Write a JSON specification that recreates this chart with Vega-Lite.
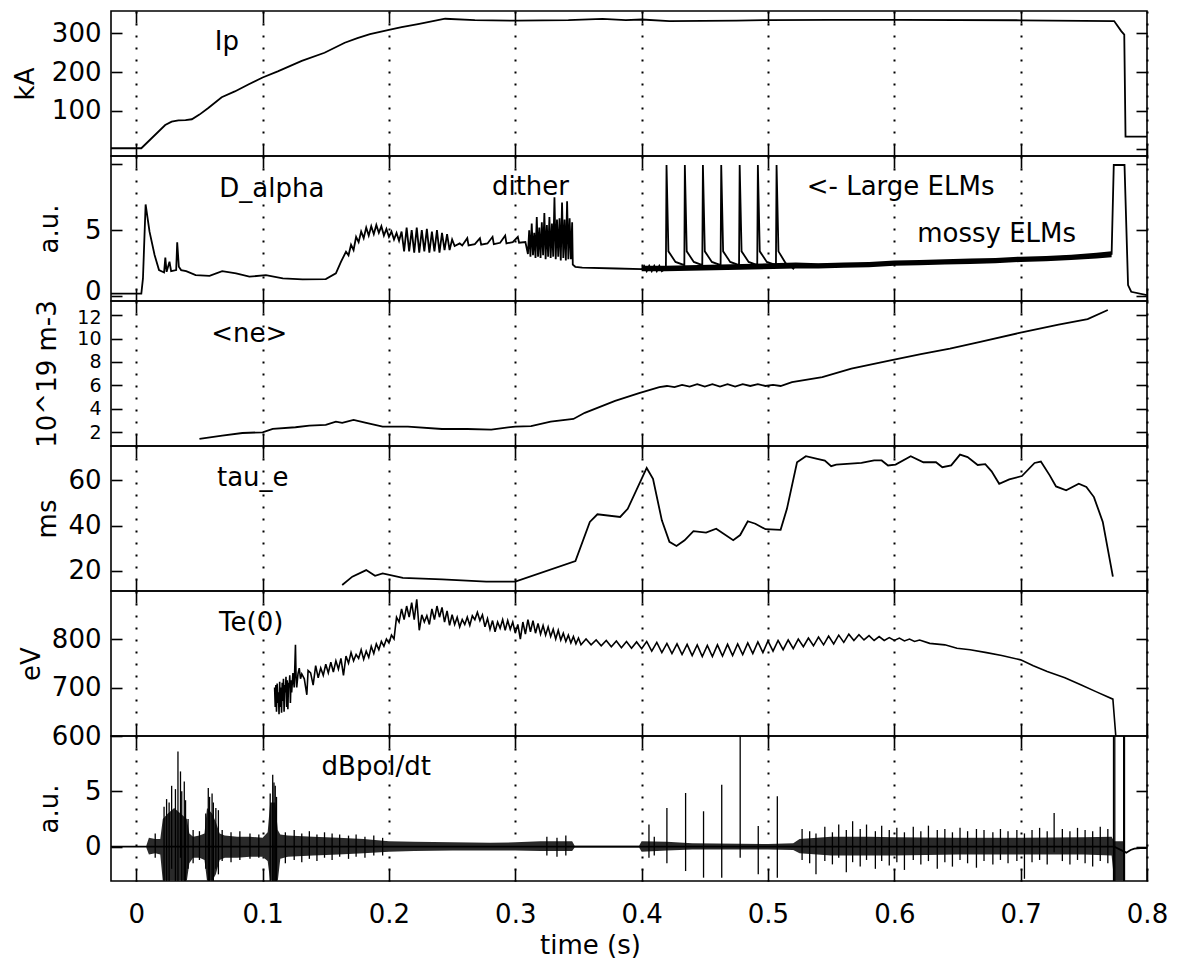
{
  "$schema": "https://vega.github.io/schema/vega-lite/v6.json",
  "padding": {"left": 11, "top": 9, "right": 25, "bottom": 5},
  "spacing": 0,
  "bounds": "flush",
  "config": {
    "font": "DejaVu Sans",
    "view": {"stroke": "black", "strokeWidth": 1.6},
    "axis": {"tickColor": "black", "tickWidth": 1.6, "labelColor": "black", "titleColor": "black", "labelFontSize": 26, "titleFontSize": 26, "titleFontWeight": "normal", "labelOverlap": false, "domain": false, "grid": false, "gridColor": "black", "gridDash": [2, 10], "gridWidth": 2, "gridOpacity": 1},
    "line": {"color": "black", "strokeWidth": 1.8},
    "text": {"color": "black"}
  },
  "datasets": {
    "ip": [{"t":-0.02,"v":3},{"t":0.004,"v":3},{"t":0.0229,"v":63},{"t":0.028,"v":72},{"t":0.0334,"v":75},{"t":0.039,"v":76},{"t":0.044,"v":78},{"t":0.05,"v":90},{"t":0.057,"v":107},{"t":0.0676,"v":135},{"t":0.078,"v":150},{"t":0.0887,"v":168},{"t":0.1,"v":186},{"t":0.112,"v":202},{"t":0.131,"v":229},{"t":0.149,"v":250},{"t":0.165,"v":276},{"t":0.175,"v":288},{"t":0.185,"v":298},{"t":0.2,"v":309},{"t":0.21,"v":316},{"t":0.223,"v":324},{"t":0.2445,"v":338},{"t":0.268,"v":334.5},{"t":0.301,"v":333},{"t":0.342,"v":334.5},{"t":0.369,"v":337.5},{"t":0.3875,"v":334.5},{"t":0.4,"v":336},{"t":0.422,"v":332},{"t":0.475,"v":333},{"t":0.5,"v":334.5},{"t":0.55,"v":335},{"t":0.6,"v":335},{"t":0.7,"v":334},{"t":0.774,"v":332},{"t":0.7796,"v":306},{"t":0.782,"v":297},{"t":0.783,"v":33},{"t":0.8,"v":33}],
    "da": [{"t":-0.02,"v":0.2},{"t":0.004,"v":0.2},{"t":0.0053,"v":1.35},{"t":0.0074,"v":6.95},{"t":0.0105,"v":4.89},{"t":0.0145,"v":3.12},{"t":0.018,"v":1.98},{"t":0.022,"v":1.8},{"t":0.023,"v":2.92},{"t":0.024,"v":1.85},{"t":0.0263,"v":2.61},{"t":0.0276,"v":1.9},{"t":0.0316,"v":1.98},{"t":0.0324,"v":4.08},{"t":0.0337,"v":2.23},{"t":0.0355,"v":1.98},{"t":0.0395,"v":1.9},{"t":0.047,"v":1.6},{"t":0.058,"v":1.55},{"t":0.068,"v":1.9},{"t":0.079,"v":1.73},{"t":0.0895,"v":1.48},{"t":0.1026,"v":1.6},{"t":0.116,"v":1.35},{"t":0.1316,"v":1.27},{"t":0.15,"v":1.3},{"t":0.158,"v":1.73},{"t":0.162,"v":2.61},{"t":0.166,"v":3.37},{"t":0.168,"v":3.1},{"t":0.17,"v":3.9},{"t":0.172,"v":3.5},{"t":0.174,"v":4.5},{"t":0.176,"v":4.1},{"t":0.178,"v":4.9},{"t":0.18,"v":4.4},{"t":0.182,"v":5.2},{"t":0.184,"v":4.6},{"t":0.186,"v":5.3},{"t":0.188,"v":4.7},{"t":0.19,"v":5.4},{"t":0.192,"v":4.8},{"t":0.194,"v":5.3},{"t":0.196,"v":4.6},{"t":0.198,"v":5.1},{"t":0.2,"v":4.5},{"t":0.202,"v":4.9},{"t":0.204,"v":4.3},{"t":0.206,"v":4.8},{"t":0.208,"v":4.2},{"t":0.21,"v":4.9},{"t":0.212,"v":3.4},{"t":0.214,"v":5.2},{"t":0.216,"v":3.4},{"t":0.218,"v":5.0},{"t":0.22,"v":3.3},{"t":0.222,"v":5.2},{"t":0.224,"v":3.3},{"t":0.226,"v":5.0},{"t":0.228,"v":3.4},{"t":0.23,"v":5.1},{"t":0.232,"v":3.3},{"t":0.234,"v":4.9},{"t":0.236,"v":3.4},{"t":0.238,"v":5.0},{"t":0.24,"v":3.3},{"t":0.242,"v":4.8},{"t":0.244,"v":3.5},{"t":0.246,"v":4.7},{"t":0.248,"v":3.5},{"t":0.25,"v":4.3},{"t":0.252,"v":3.8},{"t":0.256,"v":4.0},{"t":0.258,"v":3.85},{"t":0.262,"v":4.4},{"t":0.263,"v":3.85},{"t":0.268,"v":3.95},{"t":0.272,"v":4.4},{"t":0.273,"v":3.9},{"t":0.278,"v":4.0},{"t":0.282,"v":4.5},{"t":0.283,"v":3.95},{"t":0.288,"v":4.05},{"t":0.292,"v":4.6},{"t":0.293,"v":4.0},{"t":0.298,"v":4.1},{"t":0.302,"v":4.5},{"t":0.303,"v":4.05},{"t":0.308,"v":4.1},{"t":0.31,"v":3.2},{"t":0.311,"v":5.0},{"t":0.312,"v":3.0},{"t":0.313,"v":5.5},{"t":0.314,"v":3.1},{"t":0.315,"v":4.8},{"t":0.316,"v":2.9},{"t":0.317,"v":6.0},{"t":0.318,"v":3.0},{"t":0.319,"v":5.2},{"t":0.32,"v":2.9},{"t":0.321,"v":5.6},{"t":0.322,"v":3.1},{"t":0.323,"v":6.3},{"t":0.324,"v":2.8},{"t":0.325,"v":5.4},{"t":0.326,"v":3.0},{"t":0.327,"v":6.0},{"t":0.328,"v":2.9},{"t":0.329,"v":5.5},{"t":0.33,"v":3.0},{"t":0.331,"v":7.5},{"t":0.332,"v":2.8},{"t":0.333,"v":5.8},{"t":0.334,"v":3.0},{"t":0.335,"v":5.9},{"t":0.336,"v":2.7},{"t":0.337,"v":7.1},{"t":0.338,"v":2.9},{"t":0.339,"v":5.8},{"t":0.34,"v":2.7},{"t":0.341,"v":7.2},{"t":0.342,"v":2.8},{"t":0.343,"v":5.9},{"t":0.344,"v":2.8},{"t":0.345,"v":5.6},{"t":0.3455,"v":2.4},{"t":0.3475,"v":2.23},{"t":0.353,"v":2.16},{"t":0.38,"v":2.1},{"t":0.4,"v":2.05},{"t":0.402,"v":2.3},{"t":0.404,"v":1.9},{"t":0.406,"v":2.3},{"t":0.408,"v":1.9},{"t":0.41,"v":2.3},{"t":0.412,"v":1.9},{"t":0.414,"v":2.3},{"t":0.416,"v":1.9},{"t":0.4192,"v":2.1},{"t":0.4197,"v":9.94},{"t":0.4212,"v":3.4},{"t":0.4268,"v":2.6},{"t":0.4338,"v":2.35},{"t":0.4342,"v":9.94},{"t":0.4357,"v":3.4},{"t":0.4413,"v":2.6},{"t":0.448,"v":2.35},{"t":0.4485,"v":9.94},{"t":0.45,"v":3.4},{"t":0.4556,"v":2.6},{"t":0.4625,"v":2.35},{"t":0.463,"v":9.94},{"t":0.4645,"v":3.4},{"t":0.4701,"v":2.6},{"t":0.4771,"v":2.35},{"t":0.4776,"v":9.94},{"t":0.4791,"v":3.4},{"t":0.4847,"v":2.6},{"t":0.4915,"v":2.35},{"t":0.492,"v":9.94},{"t":0.4935,"v":3.4},{"t":0.4991,"v":2.6},{"t":0.5063,"v":2.35},{"t":0.5068,"v":9.94},{"t":0.5083,"v":3.4},{"t":0.514,"v":2.5},{"t":0.518,"v":2.3},{"t":0.52,"v":2.1},{"t":0.522,"v":2.35},{"t":0.6,"v":2.5},{"t":0.7,"v":2.8},{"t":0.772,"v":3.2},{"t":0.7737,"v":9.94},{"t":0.7822,"v":9.94},{"t":0.785,"v":0.85},{"t":0.7875,"v":0.34},{"t":0.8,"v":0.09}],
    "da_env": [{"t":0.4,"lo":1.9,"hi":2.3},{"t":0.419,"lo":1.9,"hi":2.3},{"t":0.522,"lo":2.1,"hi":2.55},{"t":0.54,"lo":2.1,"hi":2.5},{"t":0.56,"lo":2.15,"hi":2.55},{"t":0.58,"lo":2.2,"hi":2.6},{"t":0.6,"lo":2.3,"hi":2.7},{"t":0.62,"lo":2.35,"hi":2.75},{"t":0.64,"lo":2.4,"hi":2.8},{"t":0.66,"lo":2.45,"hi":2.85},{"t":0.68,"lo":2.5,"hi":2.9},{"t":0.7,"lo":2.6,"hi":3.0},{"t":0.72,"lo":2.65,"hi":3.05},{"t":0.74,"lo":2.75,"hi":3.15},{"t":0.76,"lo":2.85,"hi":3.3},{"t":0.772,"lo":2.95,"hi":3.4}],
    "ne": [{"t":0.05,"v":1.43},{"t":0.068,"v":1.72},{"t":0.084,"v":1.94},{"t":0.1,"v":2.0},{"t":0.108,"v":2.29},{"t":0.126,"v":2.43},{"t":0.137,"v":2.57},{"t":0.15,"v":2.63},{"t":0.158,"v":2.91},{"t":0.163,"v":2.8},{"t":0.172,"v":3.05},{"t":0.182,"v":2.8},{"t":0.195,"v":2.49},{"t":0.215,"v":2.49},{"t":0.242,"v":2.28},{"t":0.262,"v":2.28},{"t":0.281,"v":2.23},{"t":0.3,"v":2.49},{"t":0.3125,"v":2.52},{"t":0.328,"v":2.91},{"t":0.346,"v":3.14},{"t":0.355,"v":3.66},{"t":0.379,"v":4.68},{"t":0.398,"v":5.34},{"t":0.414,"v":5.86},{"t":0.42,"v":5.95},{"t":0.426,"v":5.85},{"t":0.432,"v":6.05},{"t":0.438,"v":5.9},{"t":0.444,"v":6.1},{"t":0.45,"v":5.9},{"t":0.456,"v":6.1},{"t":0.462,"v":5.9},{"t":0.468,"v":6.1},{"t":0.474,"v":5.9},{"t":0.48,"v":6.1},{"t":0.486,"v":5.95},{"t":0.492,"v":6.1},{"t":0.498,"v":5.95},{"t":0.504,"v":6.05},{"t":0.51,"v":5.95},{"t":0.519,"v":6.28},{"t":0.543,"v":6.71},{"t":0.566,"v":7.43},{"t":0.597,"v":8.14},{"t":0.621,"v":8.66},{"t":0.644,"v":9.14},{"t":0.668,"v":9.71},{"t":0.699,"v":10.48},{"t":0.73,"v":11.19},{"t":0.753,"v":11.66},{"t":0.769,"v":12.43}],
    "tau": [{"t":0.163,"v":13.7},{"t":0.171,"v":17.4},{"t":0.182,"v":20.3},{"t":0.189,"v":17.8},{"t":0.195,"v":18.8},{"t":0.211,"v":16.9},{"t":0.242,"v":16.2},{"t":0.277,"v":15.2},{"t":0.3,"v":15.2},{"t":0.3476,"v":24.3},{"t":0.359,"v":41.6},{"t":0.365,"v":45},{"t":0.383,"v":43.8},{"t":0.389,"v":47.4},{"t":0.404,"v":65.5},{"t":0.409,"v":60.7},{"t":0.416,"v":42.3},{"t":0.422,"v":32.8},{"t":0.4276,"v":31},{"t":0.434,"v":33.5},{"t":0.441,"v":37.5},{"t":0.451,"v":36.9},{"t":0.459,"v":38.6},{"t":0.4725,"v":33.5},{"t":0.478,"v":35.8},{"t":0.484,"v":41.9},{"t":0.49,"v":40.8},{"t":0.498,"v":38.4},{"t":0.51,"v":38.1},{"t":0.515,"v":47.4},{"t":0.523,"v":68},{"t":0.53,"v":70.7},{"t":0.539,"v":69.5},{"t":0.545,"v":68.7},{"t":0.55,"v":66.3},{"t":0.554,"v":67},{"t":0.574,"v":67.7},{"t":0.584,"v":68.8},{"t":0.59,"v":68.8},{"t":0.595,"v":66.6},{"t":0.601,"v":67},{"t":0.613,"v":70.7},{"t":0.623,"v":68},{"t":0.633,"v":68},{"t":0.638,"v":65.8},{"t":0.645,"v":66.6},{"t":0.652,"v":71.4},{"t":0.658,"v":70.3},{"t":0.666,"v":66.8},{"t":0.672,"v":67.2},{"t":0.677,"v":64},{"t":0.683,"v":58.5},{"t":0.691,"v":60.4},{"t":0.701,"v":61.9},{"t":0.711,"v":67.7},{"t":0.716,"v":68.3},{"t":0.723,"v":62.2},{"t":0.728,"v":57.3},{"t":0.736,"v":55.6},{"t":0.746,"v":58.5},{"t":0.752,"v":57.1},{"t":0.758,"v":52.6},{"t":0.765,"v":41.6},{"t":0.773,"v":17.4}],
    "te": [{"t":0.1095,"v":700},{"t":0.11,"v":660},{"t":0.1105,"v":705},{"t":0.111,"v":650},{"t":0.1115,"v":708},{"t":0.112,"v":668},{"t":0.1125,"v":690},{"t":0.113,"v":645},{"t":0.1135,"v":712},{"t":0.114,"v":660},{"t":0.1145,"v":700},{"t":0.115,"v":648},{"t":0.1155,"v":710},{"t":0.116,"v":672},{"t":0.1165,"v":718},{"t":0.117,"v":650},{"t":0.1175,"v":705},{"t":0.118,"v":690},{"t":0.1185,"v":722},{"t":0.119,"v":660},{"t":0.1195,"v":715},{"t":0.12,"v":655},{"t":0.1205,"v":710},{"t":0.121,"v":700},{"t":0.1215,"v":725},{"t":0.122,"v":668},{"t":0.1225,"v":715},{"t":0.123,"v":690},{"t":0.124,"v":730},{"t":0.125,"v":700},{"t":0.126,"v":788},{"t":0.1265,"v":720},{"t":0.127,"v":700},{"t":0.128,"v":728},{"t":0.129,"v":740},{"t":0.13,"v":718},{"t":0.131,"v":728},{"t":0.133,"v":718},{"t":0.135,"v":685},{"t":0.136,"v":735},{"t":0.138,"v":730},{"t":0.14,"v":705},{"t":0.142,"v":745},{"t":0.144,"v":720},{"t":0.146,"v":740},{"t":0.148,"v":725},{"t":0.15,"v":748},{"t":0.152,"v":730},{"t":0.154,"v":752},{"t":0.156,"v":732},{"t":0.158,"v":755},{"t":0.16,"v":738},{"t":0.162,"v":760},{"t":0.164,"v":725},{"t":0.166,"v":765},{"t":0.168,"v":750},{"t":0.17,"v":772},{"t":0.172,"v":755},{"t":0.174,"v":768},{"t":0.176,"v":760},{"t":0.178,"v":778},{"t":0.18,"v":758},{"t":0.182,"v":775},{"t":0.184,"v":762},{"t":0.186,"v":785},{"t":0.188,"v":770},{"t":0.19,"v":790},{"t":0.192,"v":778},{"t":0.194,"v":795},{"t":0.196,"v":785},{"t":0.198,"v":800},{"t":0.2,"v":792},{"t":0.202,"v":808},{"t":0.204,"v":800},{"t":0.206,"v":845},{"t":0.208,"v":835},{"t":0.21,"v":862},{"t":0.212,"v":840},{"t":0.214,"v":868},{"t":0.216,"v":845},{"t":0.218,"v":875},{"t":0.22,"v":840},{"t":0.222,"v":882},{"t":0.224,"v":818},{"t":0.226,"v":850},{"t":0.228,"v":835},{"t":0.23,"v":848},{"t":0.232,"v":830},{"t":0.234,"v":862},{"t":0.236,"v":840},{"t":0.238,"v":868},{"t":0.24,"v":845},{"t":0.242,"v":865},{"t":0.244,"v":835},{"t":0.246,"v":858},{"t":0.248,"v":828},{"t":0.25,"v":850},{"t":0.252,"v":830},{"t":0.254,"v":845},{"t":0.256,"v":825},{"t":0.258,"v":840},{"t":0.26,"v":830},{"t":0.262,"v":845},{"t":0.264,"v":828},{"t":0.266,"v":848},{"t":0.268,"v":840},{"t":0.27,"v":855},{"t":0.272,"v":838},{"t":0.274,"v":850},{"t":0.276,"v":825},{"t":0.278,"v":842},{"t":0.28,"v":820},{"t":0.282,"v":838},{"t":0.284,"v":815},{"t":0.286,"v":835},{"t":0.288,"v":822},{"t":0.29,"v":840},{"t":0.292,"v":818},{"t":0.294,"v":838},{"t":0.296,"v":820},{"t":0.298,"v":835},{"t":0.3,"v":812},{"t":0.302,"v":830},{"t":0.304,"v":800},{"t":0.306,"v":835},{"t":0.308,"v":810},{"t":0.31,"v":840},{"t":0.312,"v":815},{"t":0.314,"v":838},{"t":0.316,"v":812},{"t":0.318,"v":832},{"t":0.32,"v":810},{"t":0.322,"v":828},{"t":0.324,"v":808},{"t":0.326,"v":825},{"t":0.328,"v":805},{"t":0.33,"v":820},{"t":0.332,"v":800},{"t":0.334,"v":818},{"t":0.336,"v":798},{"t":0.338,"v":812},{"t":0.34,"v":795},{"t":0.342,"v":808},{"t":0.344,"v":792},{"t":0.346,"v":805},{"t":0.348,"v":790},{"t":0.35,"v":802},{"t":0.352,"v":788},{"t":0.356,"v":800},{"t":0.36,"v":788},{"t":0.364,"v":798},{"t":0.368,"v":786},{"t":0.372,"v":797},{"t":0.376,"v":784},{"t":0.38,"v":796},{"t":0.384,"v":782},{"t":0.388,"v":795},{"t":0.392,"v":781},{"t":0.396,"v":794},{"t":0.4,"v":780},{"t":0.404,"v":795},{"t":0.408,"v":775},{"t":0.412,"v":793},{"t":0.416,"v":772},{"t":0.42,"v":791},{"t":0.424,"v":770},{"t":0.428,"v":790},{"t":0.432,"v":768},{"t":0.436,"v":789},{"t":0.44,"v":766},{"t":0.444,"v":788},{"t":0.448,"v":764},{"t":0.452,"v":787},{"t":0.456,"v":764},{"t":0.46,"v":788},{"t":0.464,"v":765},{"t":0.468,"v":789},{"t":0.472,"v":766},{"t":0.476,"v":790},{"t":0.48,"v":768},{"t":0.484,"v":792},{"t":0.488,"v":770},{"t":0.492,"v":794},{"t":0.496,"v":772},{"t":0.5,"v":796},{"t":0.504,"v":775},{"t":0.508,"v":797},{"t":0.512,"v":778},{"t":0.516,"v":798},{"t":0.52,"v":780},{"t":0.524,"v":800},{"t":0.528,"v":784},{"t":0.532,"v":802},{"t":0.536,"v":786},{"t":0.54,"v":804},{"t":0.544,"v":788},{"t":0.548,"v":806},{"t":0.552,"v":790},{"t":0.556,"v":808},{"t":0.56,"v":793},{"t":0.564,"v":810},{"t":0.568,"v":797},{"t":0.572,"v":809},{"t":0.576,"v":798},{"t":0.58,"v":807},{"t":0.584,"v":797},{"t":0.588,"v":805},{"t":0.592,"v":797},{"t":0.596,"v":803},{"t":0.6,"v":797},{"t":0.604,"v":802},{"t":0.608,"v":796},{"t":0.612,"v":800},{"t":0.616,"v":795},{"t":0.62,"v":798},{"t":0.628,"v":791},{"t":0.64,"v":788},{"t":0.6496,"v":781},{"t":0.66,"v":778},{"t":0.673,"v":772},{"t":0.685,"v":766},{"t":0.7,"v":757},{"t":0.71,"v":745},{"t":0.721,"v":733},{"t":0.735,"v":720},{"t":0.748,"v":705},{"t":0.76,"v":691},{"t":0.773,"v":676},{"t":0.7756,"v":590}],
    "db_env": [{"t":0.008,"lo":-0.1,"hi":0.1},{"t":0.01,"lo":-0.7,"hi":0.8},{"t":0.015,"lo":-0.6,"hi":0.7},{"t":0.019,"lo":-0.7,"hi":0.7},{"t":0.021,"lo":-3.1,"hi":2.5},{"t":0.025,"lo":-3.1,"hi":3.0},{"t":0.03,"lo":-3.1,"hi":3.5},{"t":0.035,"lo":-3.1,"hi":3.0},{"t":0.04,"lo":-3.1,"hi":2.5},{"t":0.042,"lo":-1.5,"hi":1.2},{"t":0.045,"lo":-1.0,"hi":0.9},{"t":0.05,"lo":-1.0,"hi":1.0},{"t":0.054,"lo":-1.2,"hi":1.2},{"t":0.056,"lo":-3.1,"hi":3.5},{"t":0.06,"lo":-3.1,"hi":3.0},{"t":0.063,"lo":-2.5,"hi":2.2},{"t":0.066,"lo":-1.2,"hi":1.2},{"t":0.07,"lo":-1.0,"hi":1.0},{"t":0.08,"lo":-1.0,"hi":0.9},{"t":0.09,"lo":-0.9,"hi":0.9},{"t":0.1,"lo":-0.9,"hi":0.8},{"t":0.104,"lo":-1.3,"hi":1.3},{"t":0.106,"lo":-3.1,"hi":4.0},{"t":0.11,"lo":-3.1,"hi":4.0},{"t":0.112,"lo":-3.1,"hi":1.5},{"t":0.114,"lo":-1.1,"hi":1.1},{"t":0.12,"lo":-0.9,"hi":1.0},{"t":0.14,"lo":-0.8,"hi":0.9},{"t":0.16,"lo":-0.7,"hi":0.8},{"t":0.18,"lo":-0.6,"hi":0.7},{"t":0.2,"lo":-0.45,"hi":0.5},{"t":0.22,"lo":-0.4,"hi":0.45},{"t":0.25,"lo":-0.35,"hi":0.4},{"t":0.28,"lo":-0.35,"hi":0.35},{"t":0.3,"lo":-0.35,"hi":0.4},{"t":0.32,"lo":-0.4,"hi":0.5},{"t":0.345,"lo":-0.4,"hi":0.5},{"t":0.347,"lo":-0.08,"hi":0.08},{"t":0.398,"lo":-0.08,"hi":0.08},{"t":0.4,"lo":-0.45,"hi":0.5},{"t":0.42,"lo":-0.35,"hi":0.45},{"t":0.44,"lo":-0.25,"hi":0.3},{"t":0.5,"lo":-0.25,"hi":0.25},{"t":0.52,"lo":-0.3,"hi":0.3},{"t":0.525,"lo":-0.6,"hi":0.7},{"t":0.55,"lo":-0.8,"hi":0.9},{"t":0.58,"lo":-0.8,"hi":0.9},{"t":0.6,"lo":-0.8,"hi":0.85},{"t":0.65,"lo":-0.7,"hi":0.8},{"t":0.7,"lo":-0.7,"hi":0.8},{"t":0.75,"lo":-0.7,"hi":0.85},{"t":0.772,"lo":-0.8,"hi":0.9},{"t":0.774,"lo":-3.1,"hi":0.5},{"t":0.781,"lo":-3.1,"hi":0.5},{"t":0.782,"lo":0,"hi":0}],
    "db_spk": [{"t":0.015,"lo":-1.0,"hi":1.2},{"t":0.022,"lo":-3.1,"hi":3.6},{"t":0.024,"lo":-3.1,"hi":4.3},{"t":0.026,"lo":-3.1,"hi":4.0},{"t":0.028,"lo":-2,"hi":5.5},{"t":0.031,"lo":-3.1,"hi":5.2},{"t":0.033,"lo":-3.1,"hi":8.6},{"t":0.035,"lo":-1,"hi":6.8},{"t":0.036,"lo":-3.1,"hi":5.0},{"t":0.038,"lo":-3.1,"hi":5.9},{"t":0.039,"lo":-3.1,"hi":4.2},{"t":0.041,"lo":-2,"hi":2.5},{"t":0.045,"lo":-1.5,"hi":1.5},{"t":0.05,"lo":-1.2,"hi":1.4},{"t":0.055,"lo":-2,"hi":3.0},{"t":0.057,"lo":-3.1,"hi":5.3},{"t":0.058,"lo":-3.1,"hi":4.5},{"t":0.06,"lo":-3.1,"hi":4.8},{"t":0.061,"lo":-3.1,"hi":4.0},{"t":0.063,"lo":-2,"hi":3.5},{"t":0.065,"lo":-2.5,"hi":3.3},{"t":0.068,"lo":-1.3,"hi":1.5},{"t":0.075,"lo":-1.4,"hi":1.3},{"t":0.082,"lo":-1.2,"hi":1.4},{"t":0.09,"lo":-1.1,"hi":1.2},{"t":0.097,"lo":-1.0,"hi":1.1},{"t":0.106,"lo":-3.1,"hi":4.8},{"t":0.108,"lo":-3.1,"hi":6.5},{"t":0.109,"lo":-3.1,"hi":5.8},{"t":0.11,"lo":-3.1,"hi":5.5},{"t":0.111,"lo":-3.1,"hi":4.5},{"t":0.118,"lo":-1.5,"hi":1.3},{"t":0.125,"lo":-1.2,"hi":1.5},{"t":0.131,"lo":-1.4,"hi":1.2},{"t":0.137,"lo":-1.1,"hi":1.4},{"t":0.143,"lo":-1.3,"hi":1.1},{"t":0.149,"lo":-1.0,"hi":1.3},{"t":0.155,"lo":-1.2,"hi":1.2},{"t":0.161,"lo":-0.9,"hi":1.1},{"t":0.168,"lo":-1.1,"hi":1.0},{"t":0.174,"lo":-0.9,"hi":1.1},{"t":0.181,"lo":-1.0,"hi":0.9},{"t":0.188,"lo":-0.8,"hi":1.0},{"t":0.195,"lo":-0.8,"hi":0.8},{"t":0.325,"lo":-0.8,"hi":0.9},{"t":0.333,"lo":-0.9,"hi":0.8},{"t":0.34,"lo":-0.8,"hi":1.0},{"t":0.4058,"lo":-1,"hi":2.0},{"t":0.41,"lo":-0.8,"hi":0.9},{"t":0.42,"lo":-1.5,"hi":3.5},{"t":0.4348,"lo":-2.2,"hi":4.85},{"t":0.449,"lo":-2.8,"hi":3.2},{"t":0.4634,"lo":-2.8,"hi":5.6},{"t":0.478,"lo":-1,"hi":10},{"t":0.4923,"lo":-2.5,"hi":1.86},{"t":0.5074,"lo":-2.8,"hi":4.55},{"t":0.527,"lo":-1.2,"hi":1.6},{"t":0.533,"lo":-1.5,"hi":1.4},{"t":0.538,"lo":-2.5,"hi":1.2},{"t":0.545,"lo":-1.3,"hi":1.8},{"t":0.551,"lo":-1.6,"hi":1.3},{"t":0.556,"lo":-1.0,"hi":2.0},{"t":0.562,"lo":-2.3,"hi":1.5},{"t":0.567,"lo":-1.4,"hi":2.3},{"t":0.573,"lo":-1.8,"hi":1.6},{"t":0.578,"lo":-1.2,"hi":2.0},{"t":0.585,"lo":-2.0,"hi":1.4},{"t":0.59,"lo":-1.3,"hi":1.9},{"t":0.596,"lo":-1.7,"hi":1.5},{"t":0.602,"lo":-1.4,"hi":1.7},{"t":0.608,"lo":-2.1,"hi":1.3},{"t":0.615,"lo":-1.2,"hi":1.8},{"t":0.621,"lo":-1.6,"hi":1.4},{"t":0.627,"lo":-1.3,"hi":1.9},{"t":0.634,"lo":-2.0,"hi":1.5},{"t":0.64,"lo":-1.4,"hi":1.6},{"t":0.646,"lo":-1.8,"hi":1.3},{"t":0.652,"lo":-1.2,"hi":1.7},{"t":0.658,"lo":-1.5,"hi":1.4},{"t":0.665,"lo":-1.9,"hi":1.6},{"t":0.671,"lo":-1.3,"hi":1.5},{"t":0.678,"lo":-1.6,"hi":1.3},{"t":0.684,"lo":-1.2,"hi":1.6},{"t":0.69,"lo":-1.5,"hi":1.4},{"t":0.697,"lo":-1.3,"hi":1.5},{"t":0.703,"lo":-2.9,"hi":1.2},{"t":0.709,"lo":-1.4,"hi":1.5},{"t":0.715,"lo":-1.2,"hi":1.7},{"t":0.721,"lo":-1.6,"hi":1.4},{"t":0.7265,"lo":-0.5,"hi":3.05},{"t":0.733,"lo":-1.3,"hi":1.6},{"t":0.739,"lo":-1.6,"hi":1.4},{"t":0.745,"lo":-1.2,"hi":1.7},{"t":0.751,"lo":-1.5,"hi":1.5},{"t":0.757,"lo":-1.8,"hi":1.4},{"t":0.763,"lo":-1.3,"hi":1.8},{"t":0.769,"lo":-1.5,"hi":1.6},{"t":0.7735,"lo":-3.1,"hi":10},{"t":0.7745,"lo":-3.1,"hi":10},{"t":0.7815,"lo":-3.1,"hi":10},{"t":0.7822,"lo":-3.1,"hi":10}],
    "db_line": [{"t":-0.02,"v":0},{"t":0.774,"v":0},{"t":0.7836,"v":-0.54},{"t":0.787,"v":-0.3},{"t":0.79,"v":-0.18},{"t":0.795,"v":-0.13},{"t":0.8,"v":-0.12}],
    "notes": [{"panel":1,"t":0.0717,"v":258,"text":"Ip"},{"panel":2,"t":0.1073,"v":7.54,"text":"D_alpha"},{"panel":2,"t":0.312,"v":7.67,"text":"dither"},{"panel":2,"t":0.605,"v":7.67,"text":"<- Large ELMs"},{"panel":2,"t":0.681,"v":4.13,"text":"mossy ELMs"},{"panel":3,"t":0.0895,"v":9.71,"text":"<ne>"},{"panel":4,"t":0.0922,"v":57.4,"text":"tau_e"},{"panel":5,"t":0.091,"v":816.5,"text":"Te(0)"},{"panel":6,"t":0.19,"v":6.5,"text":"dBpol/dt"}]
  },
  "vconcat": [
    {
      "width": 1036, "height": 145,
      "layer": [
        {"data": {"name": "ip"}, "mark": {"type": "line", "clip": true},
         "encoding": {
           "x": {"field": "t", "type": "quantitative", "scale": {"domain": [-0.02, 0.8], "nice": false, "zero": false}, "axis": {"orient": "bottom", "values": [0,0.1,0.2,0.3,0.4,0.5,0.6,0.7,0.8], "grid": true, "labels": false, "title": null, "tickSize": -12}},
           "y": {"field": "v", "type": "quantitative", "scale": {"domain": [-17, 358], "nice": false, "zero": false}, "axis": {"orient": "left", "values": [100,200,300], "tickSize": -11, "labelPadding": 21, "title": "kA", "titlePadding": 13}}}},
        {"data": {"name": "ip"}, "mark": {"type": "line", "opacity": 0},
         "encoding": {
           "x": {"field": "t", "type": "quantitative", "axis": {"orient": "top", "values": [0,0.1,0.2,0.3,0.4,0.5,0.6,0.7], "labels": false, "title": null, "tickSize": -12}},
           "y": {"field": "v", "type": "quantitative", "axis": {"orient": "right", "values": [0,100,200,300], "labels": false, "title": null, "tickSize": -11}}}},
        {"data": {"name": "notes"}, "transform": [{"filter": "datum.panel == 1"}],
         "mark": {"type": "text", "align": "center", "baseline": "alphabetic", "fontSize": 26},
         "encoding": {"x": {"field": "t", "type": "quantitative", "axis": null}, "y": {"field": "v", "type": "quantitative", "axis": null}, "text": {"field": "text"}}}
      ],
      "resolve": {"axis": {"x": "independent", "y": "independent"}}
    },
    {
      "width": 1036, "height": 145,
      "layer": [
        {"data": {"name": "da_env"}, "mark": {"type": "area", "color": "black", "clip": true},
         "encoding": {
           "x": {"field": "t", "type": "quantitative", "scale": {"domain": [-0.02, 0.8], "nice": false, "zero": false}, "axis": {"orient": "bottom", "values": [0,0.1,0.2,0.3,0.4,0.5,0.6,0.7,0.8], "grid": true, "labels": false, "title": null, "tickSize": -12}},
           "y": {"field": "lo", "type": "quantitative", "scale": {"domain": [-0.36, 10.62], "nice": false, "zero": false}, "axis": {"orient": "left", "values": [0,5,10], "labelExpr": "datum.value == 10 ? '' : datum.label", "labelOffset": {"condition": {"test": "datum.value == 0", "value": -5}, "value": 0}, "tickSize": -11, "labelPadding": 21, "title": "a.u.", "titlePadding": 22}},
           "y2": {"field": "hi"}}},
        {"data": {"name": "da"}, "mark": {"type": "line", "clip": true},
         "encoding": {
           "x": {"field": "t", "type": "quantitative", "axis": {"orient": "top", "values": [0,0.1,0.2,0.3,0.4,0.5,0.6,0.7], "labels": false, "title": null, "tickSize": -12}},
           "y": {"field": "v", "type": "quantitative", "axis": {"orient": "right", "values": [0,5,10], "labels": false, "title": null, "tickSize": -11}}}},
        {"data": {"name": "notes"}, "transform": [{"filter": "datum.panel == 2"}],
         "mark": {"type": "text", "align": "center", "baseline": "alphabetic", "fontSize": 26},
         "encoding": {"x": {"field": "t", "type": "quantitative", "axis": null}, "y": {"field": "v", "type": "quantitative", "axis": null}, "text": {"field": "text"}}}
      ],
      "resolve": {"axis": {"x": "independent", "y": "independent"}}
    },
    {
      "width": 1036, "height": 145,
      "layer": [
        {"data": {"name": "ne"}, "mark": {"type": "line", "clip": true},
         "encoding": {
           "x": {"field": "t", "type": "quantitative", "scale": {"domain": [-0.02, 0.8], "nice": false, "zero": false}, "axis": {"orient": "bottom", "values": [0,0.1,0.2,0.3,0.4,0.5,0.6,0.7,0.8], "grid": true, "labels": false, "title": null, "tickSize": -12}},
           "y": {"field": "v", "type": "quantitative", "scale": {"domain": [0.83, 13.2], "nice": false, "zero": false}, "axis": {"orient": "left", "values": [2,4,6,8,10,12], "labelFontSize": 19, "labelOffset": {"condition": {"test": "datum.value == 12", "value": 2}, "value": 0}, "tickSize": -11, "labelPadding": 21, "title": "10^19 m-3", "titlePadding": 16}}}},
        {"data": {"name": "ne"}, "mark": {"type": "line", "opacity": 0},
         "encoding": {
           "x": {"field": "t", "type": "quantitative", "axis": {"orient": "top", "values": [0,0.1,0.2,0.3,0.4,0.5,0.6,0.7], "labels": false, "title": null, "tickSize": -12}},
           "y": {"field": "v", "type": "quantitative", "axis": {"orient": "right", "values": [2,4,6,8,10,12], "labels": false, "title": null, "tickSize": -11}}}},
        {"data": {"name": "notes"}, "transform": [{"filter": "datum.panel == 3"}],
         "mark": {"type": "text", "align": "center", "baseline": "alphabetic", "fontSize": 26},
         "encoding": {"x": {"field": "t", "type": "quantitative", "axis": null}, "y": {"field": "v", "type": "quantitative", "axis": null}, "text": {"field": "text"}}}
      ],
      "resolve": {"axis": {"x": "independent", "y": "independent"}}
    },
    {
      "width": 1036, "height": 145,
      "layer": [
        {"data": {"name": "tau"}, "mark": {"type": "line", "clip": true},
         "encoding": {
           "x": {"field": "t", "type": "quantitative", "scale": {"domain": [-0.02, 0.8], "nice": false, "zero": false}, "axis": {"orient": "bottom", "values": [0,0.1,0.2,0.3,0.4,0.5,0.6,0.7,0.8], "grid": true, "labels": false, "title": null, "tickSize": -12}},
           "y": {"field": "v", "type": "quantitative", "scale": {"domain": [11.05, 75.2], "nice": false, "zero": false}, "axis": {"orient": "left", "values": [20,40,60], "tickSize": -11, "labelPadding": 21, "title": "ms", "titlePadding": 7}}}},
        {"data": {"name": "tau"}, "mark": {"type": "line", "opacity": 0},
         "encoding": {
           "x": {"field": "t", "type": "quantitative", "axis": {"orient": "top", "values": [0,0.1,0.2,0.3,0.4,0.5,0.6,0.7], "labels": false, "title": null, "tickSize": -12}},
           "y": {"field": "v", "type": "quantitative", "axis": {"orient": "right", "values": [20,40,60], "labels": false, "title": null, "tickSize": -11}}}},
        {"data": {"name": "notes"}, "transform": [{"filter": "datum.panel == 4"}],
         "mark": {"type": "text", "align": "center", "baseline": "alphabetic", "fontSize": 26},
         "encoding": {"x": {"field": "t", "type": "quantitative", "axis": null}, "y": {"field": "v", "type": "quantitative", "axis": null}, "text": {"field": "text"}}}
      ],
      "resolve": {"axis": {"x": "independent", "y": "independent"}}
    },
    {
      "width": 1036, "height": 145,
      "layer": [
        {"data": {"name": "te"}, "mark": {"type": "line", "clip": true, "strokeWidth": 1.6},
         "encoding": {
           "x": {"field": "t", "type": "quantitative", "scale": {"domain": [-0.02, 0.8], "nice": false, "zero": false}, "axis": {"orient": "bottom", "values": [0,0.1,0.2,0.3,0.4,0.5,0.6,0.7,0.8], "grid": true, "labels": false, "title": null, "tickSize": -12}},
           "y": {"field": "v", "type": "quantitative", "scale": {"domain": [600, 899], "nice": false, "zero": false}, "axis": {"orient": "left", "values": [600,700,800], "tickSize": -11, "labelPadding": 21, "title": "eV", "titlePadding": 7}}}},
        {"data": {"name": "te"}, "mark": {"type": "line", "opacity": 0},
         "encoding": {
           "x": {"field": "t", "type": "quantitative", "axis": {"orient": "top", "values": [0,0.1,0.2,0.3,0.4,0.5,0.6,0.7], "labels": false, "title": null, "tickSize": -12}},
           "y": {"field": "v", "type": "quantitative", "axis": {"orient": "right", "values": [700,800], "labels": false, "title": null, "tickSize": -11}}}},
        {"data": {"name": "notes"}, "transform": [{"filter": "datum.panel == 5"}],
         "mark": {"type": "text", "align": "center", "baseline": "alphabetic", "fontSize": 26},
         "encoding": {"x": {"field": "t", "type": "quantitative", "axis": null}, "y": {"field": "v", "type": "quantitative", "axis": null}, "text": {"field": "text"}}}
      ],
      "resolve": {"axis": {"x": "independent", "y": "independent"}}
    },
    {
      "width": 1036, "height": 145,
      "layer": [
        {"data": {"name": "db_env"}, "mark": {"type": "area", "color": "#2a2a2a", "clip": true},
         "encoding": {
           "x": {"field": "t", "type": "quantitative", "scale": {"domain": [-0.02, 0.8], "nice": false, "zero": false}, "axis": {"orient": "bottom", "values": [0,0.1,0.2,0.3,0.4,0.5,0.6,0.7,0.8], "grid": true, "labels": true, "labelFlush": false, "labelExpr": "datum.value == 0 ? '0' : format(datum.value, '.1f')", "labelPadding": 32, "title": "time (s)", "titleX": 479, "titleAlign": "center", "titlePadding": 5, "tickSize": -12}},
           "y": {"field": "lo", "type": "quantitative", "scale": {"domain": [-3.1, 10], "nice": false, "zero": false}, "axis": {"orient": "left", "values": [0,5], "tickSize": -11, "labelPadding": 21, "title": "a.u.", "titlePadding": 22}},
           "y2": {"field": "hi"}}},
        {"data": {"name": "db_spk"}, "mark": {"type": "rule", "color": "black", "strokeWidth": 1.3, "clip": true},
         "encoding": {
           "x": {"field": "t", "type": "quantitative", "axis": {"orient": "top", "values": [0,0.1,0.2,0.3,0.4,0.5,0.6,0.7], "labels": false, "title": null, "tickSize": -12}},
           "y": {"field": "lo", "type": "quantitative", "axis": {"orient": "right", "values": [0,5], "labels": false, "title": null, "tickSize": -11}},
           "y2": {"field": "hi"}}},
        {"data": {"name": "db_line"}, "mark": {"type": "line", "clip": true},
         "encoding": {"x": {"field": "t", "type": "quantitative", "axis": null}, "y": {"field": "v", "type": "quantitative", "axis": null}}},
        {"data": {"name": "notes"}, "transform": [{"filter": "datum.panel == 6"}],
         "mark": {"type": "text", "align": "center", "baseline": "alphabetic", "fontSize": 26},
         "encoding": {"x": {"field": "t", "type": "quantitative", "axis": null}, "y": {"field": "v", "type": "quantitative", "axis": null}, "text": {"field": "text"}}}
      ],
      "resolve": {"axis": {"x": "independent", "y": "independent"}}
    }
  ]
}
